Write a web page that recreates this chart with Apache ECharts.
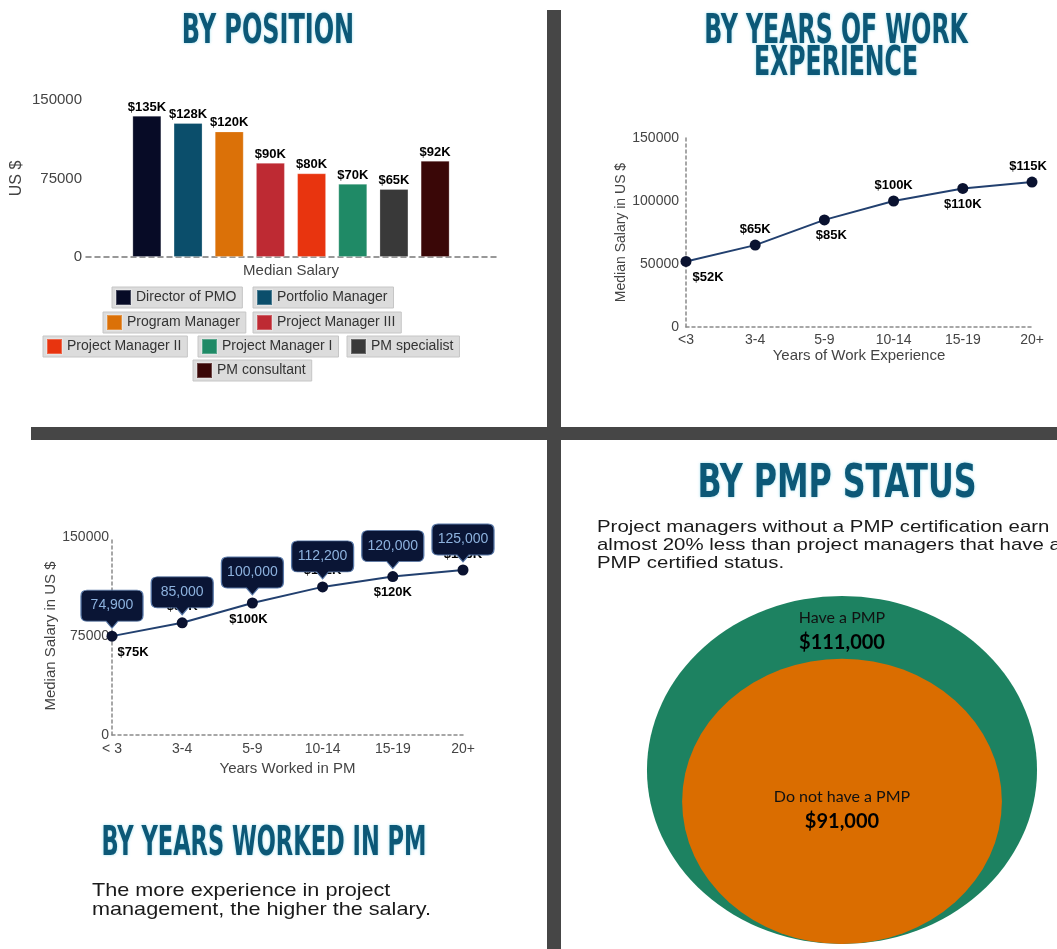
<!DOCTYPE html>
<html>
<head>
<meta charset="utf-8">
<script src="https://cdn.jsdelivr.net/npm/echarts@6/dist/echarts.min.js"></script>
<style>
html, body { margin: 0; padding: 0; background: #fff; }
#main { width: 1057px; height: 949px; }
</style>
</head>
<body>
<div id="main"></div>
<script>
// by position
var positions = ['Director of PMO', 'Portfolio Manager', 'Program Manager', 'Project Manager III',
                 'Project Manager II', 'Project Manager I', 'PM specialist', 'PM consultant'];
var positionSalary = [135000, 128000, 120000, 90000, 80000, 70000, 65000, 92000];
var positionColors = ['#070b26', '#0b4e6b', '#db7108', '#be2a33', '#e8340f', '#1f8a66', '#393939', '#3a0707'];

// by years of work experience
var workYears = ['<3', '3-4', '5-9', '10-14', '15-19', '20+'];
var workSalary = [52000, 65000, 85000, 100000, 110000, 115000];

// by years worked in PM
var pmYears = ['< 3', '3-4', '5-9', '10-14', '15-19', '20+'];
var pmSalary = [74900, 85000, 100000, 112200, 120000, 125000];

// by PMP status
var pmpStatus = ['Have a PMP', 'Do not have a PMP'];
var pmpSalary = [111000, 91000];

var legendPos = [[112, 287], [253, 287], [103, 312], [253, 312], [43, 336], [198, 336], [347, 336], [193, 360]];

var myChart = echarts.init(document.getElementById('main'));

function kLabel(p) {
    return '$' + Math.round(p.value / 1000) + 'K';
}
function plain(v) {
    return String(v);
}

var titleFont = "'DejaVu Sans Condensed', 'DejaVu Sans', sans-serif";
var bodyFont = "'Liberation Sans', Arial, sans-serif";

// the poster is stretched sideways, so headings get squeezed with scaleX
function heading(text, x, y, size, sx) {
    return {
        type: 'text', x: x, y: y, z: 100, scaleX: sx,
        style: {
            text: text, fill: '#0c5877', fontFamily: titleFont, fontWeight: 'bold',
            fontSize: size, lineHeight: 32, align: 'center', verticalAlign: 'middle',
            textShadowColor: 'rgba(90,200,225,0.6)', textShadowBlur: 3
        }
    };
}

var axisDash = { color: '#8a8a8a', type: [3, 3], width: 1.5 };

var series = positions.map(function (name, i) {
    return {
        type: 'bar', name: name, xAxisIndex: 0, yAxisIndex: 0,
        data: [positionSalary[i]],
        barWidth: 29, barGap: '42%',
        itemStyle: { color: positionColors[i], borderColor: 'rgba(255,255,255,0.25)', borderWidth: 1 },
        label: { show: true, position: 'top', distance: 2, fontWeight: 'bold', fontSize: 13,
                 color: '#000', fontFamily: bodyFont, formatter: kLabel }
    };
});

var workOffsets = [[22, 0], [0, 0], [7, 0], [0, 0], [0, 0], [-4, 0]];
series.push({
    type: 'line', xAxisIndex: 1, yAxisIndex: 1,
    data: workSalary.map(function (v, i) {
        return { value: v, label: { position: i % 2 ? 'top' : 'bottom', offset: workOffsets[i] } };
    }),
    symbol: 'circle', symbolSize: 11,
    lineStyle: { color: '#22406f', width: 2 },
    itemStyle: { color: '#0a1230' },
    label: { show: true, distance: 4, fontWeight: 'bold', fontSize: 13, color: '#000',
             fontFamily: bodyFont, formatter: kLabel }
});

var pmOffsets = [[21, 0], [0, 0], [-4, 0], [0, 0], [0, 0], [0, 0]];
series.push({
    type: 'line', xAxisIndex: 2, yAxisIndex: 2, z: 2,
    data: pmSalary.map(function (v, i) {
        return { value: v, label: { position: i % 2 ? 'top' : 'bottom', offset: pmOffsets[i] } };
    }),
    symbol: 'circle', symbolSize: 11,
    lineStyle: { color: '#22406f', width: 2 },
    itemStyle: { color: '#0a1230' },
    label: { show: true, distance: 4, fontWeight: 'bold', fontSize: 13, color: '#000',
             fontFamily: bodyFont, formatter: kLabel }
});

// callout bubbles over the PM line
series.push({
    type: 'scatter', xAxisIndex: 2, yAxisIndex: 2, z: 5, silent: true,
    data: pmSalary,
    symbol: 'path://M6,0 H56 Q62,0 62,6 V25 Q62,31 56,31 H37 L31,38 L25,31 H6 Q0,31 0,25 V6 Q0,0 6,0 Z',
    symbolSize: [62, 38], symbolOffset: [0, -27],
    itemStyle: { color: '#0a1535', borderColor: '#5878a8', borderWidth: 1, opacity: 1 },
    label: { show: true, position: 'inside', offset: [0, -3.5], color: '#8db2de', fontSize: 14,
             fontFamily: bodyFont,
             formatter: function (p) { return p.value.toLocaleString('en-US'); } }
});

// PMP circles, size scaled by salary, sitting on a common bottom
var bubbleScaleX = 0.003514, bubbleScaleY = 0.003135;
var pmpColors = ['#1d8261', '#da6d00'];
var pmpLabel = [
    { position: 'insideTop', distance: 9 },
    { position: 'inside', offset: [0, 8] }
];
pmpStatus.forEach(function (name, i) {
    var v = pmpSalary[i];
    series.push({
        type: 'scatter', name: name, xAxisIndex: 3, yAxisIndex: 3, z: 2 + i, silent: true,
        data: [{ value: [0, 0],
                 symbolSize: [v * bubbleScaleX, v * bubbleScaleY],
                 symbolOffset: [0, -v * bubbleScaleY / 2] }],
        symbol: 'circle',
        itemStyle: { color: pmpColors[i], opacity: 1 },
        label: Object.assign({
            show: true, color: '#111',
            formatter: '{a|' + name + '}\n{b|$' + v.toLocaleString('en-US') + '}',
            rich: {
                a: { fontSize: 16, lineHeight: 25, color: '#111', fontFamily: "Lato, sans-serif" },
                b: { fontSize: 20, lineHeight: 25, fontWeight: 'bold', color: '#000', fontFamily: "Lato, sans-serif" }
            }
        }, pmpLabel[i])
    });
});

var legends = positions.map(function (name, i) {
    return {
        data: [name], left: legendPos[i][0], top: legendPos[i][1],
        backgroundColor: '#dcdcdc', borderColor: '#c6c6c6', borderWidth: 1,
        padding: [2, 6, 2, 3], itemWidth: 15, itemHeight: 15, icon: 'rect',
        selectedMode: false,
        textStyle: { fontSize: 14, color: '#333', fontFamily: bodyFont }
    };
});

myChart.setOption({
    animation: false,
    backgroundColor: '#fff',
    textStyle: { fontFamily: bodyFont },
    legend: legends,
    grid: [
        { left: 86, top: 100, width: 410, height: 157 },
        { left: 686, top: 138, width: 346, height: 189 },
        { left: 112, top: 537, width: 351, height: 198 },
        { left: 642, top: 500, width: 400, height: 444 }
    ],
    xAxis: [
        { type: 'category', gridIndex: 0, data: ['Median Salary'],
          axisTick: { show: false }, axisLine: { lineStyle: { color: '#777', type: [5, 4], width: 1.5 } },
          axisLabel: { fontSize: 15, color: '#444', margin: 6 } },
        { type: 'category', gridIndex: 1, data: workYears, boundaryGap: false,
          axisTick: { show: false }, axisLine: { lineStyle: axisDash },
          axisLabel: { fontSize: 14, color: '#444', margin: 6, interval: 0 },
          name: 'Years of Work Experience', nameLocation: 'middle', nameGap: 21,
          nameTextStyle: { fontSize: 15, color: '#444' } },
        { type: 'category', gridIndex: 2, data: pmYears, boundaryGap: false,
          axisTick: { show: false }, axisLine: { lineStyle: axisDash },
          axisLabel: { fontSize: 14, color: '#444', margin: 7, interval: 0 },
          name: 'Years Worked in PM', nameLocation: 'middle', nameGap: 26,
          nameTextStyle: { fontSize: 15, color: '#444' } },
        { type: 'value', gridIndex: 3, min: -1, max: 1, show: false }
    ],
    yAxis: [
        { type: 'value', gridIndex: 0, min: 0, max: 150000, interval: 75000,
          axisLine: { show: false }, axisTick: { show: false }, splitLine: { show: false },
          axisLabel: { fontSize: 15, color: '#444', margin: 4, formatter: plain },
          name: 'US $', nameLocation: 'middle', nameGap: 61,
          nameTextStyle: { fontSize: 16, color: '#444' } },
        { type: 'value', gridIndex: 1, min: 0, max: 150000, interval: 50000,
          axisLine: { show: true, lineStyle: axisDash }, axisTick: { show: false }, splitLine: { show: false },
          axisLabel: { fontSize: 14, color: '#444', margin: 7, formatter: plain },
          name: 'Median Salary in US $', nameLocation: 'middle', nameGap: 52,
          nameTextStyle: { fontSize: 14, color: '#444' } },
        { type: 'value', gridIndex: 2, min: 0, max: 150000, interval: 75000,
          axisLine: { show: true, lineStyle: axisDash }, axisTick: { show: false }, splitLine: { show: false },
          axisLabel: { fontSize: 14, color: '#444', margin: 3, formatter: plain },
          name: 'Median Salary in US $', nameLocation: 'middle', nameGap: 52,
          nameTextStyle: { fontSize: 15, color: '#444' } },
        { type: 'value', gridIndex: 3, min: 0, max: 1, show: false }
    ],
    graphic: [
        { type: 'rect', z: 50, shape: { x: 547, y: 10, width: 14, height: 939 }, style: { fill: '#464646' } },
        { type: 'rect', z: 50, shape: { x: 31, y: 427, width: 1026, height: 13 }, style: { fill: '#464646' } },
        heading('BY POSITION', 268, 32, 41, 0.65),
        heading('BY YEARS OF WORK\nEXPERIENCE', 836, 48, 41, 0.64),
        heading('BY PMP STATUS', 837, 485, 47, 0.75),
        heading('BY YEARS WORKED IN PM', 264, 844, 41, 0.61),
        { type: 'text', x: 597, y: 518, z: 100, scaleX: 1.2,
          style: { text: 'Project managers without a PMP certification earn\nalmost 20% less than project managers that have a\nPMP certified status.',
                   fill: '#1a1a1a', fontFamily: bodyFont, fontSize: 17, lineHeight: 18, verticalAlign: 'top' } },
        { type: 'text', x: 92, y: 881, z: 100, scaleX: 1.17,
          style: { text: 'The more experience in project\nmanagement, the higher the salary.',
                   fill: '#1a1a1a', fontFamily: bodyFont, fontSize: 18.5, lineHeight: 19, verticalAlign: 'top' } }
    ],
    series: series
});
</script>
</body>
</html>
